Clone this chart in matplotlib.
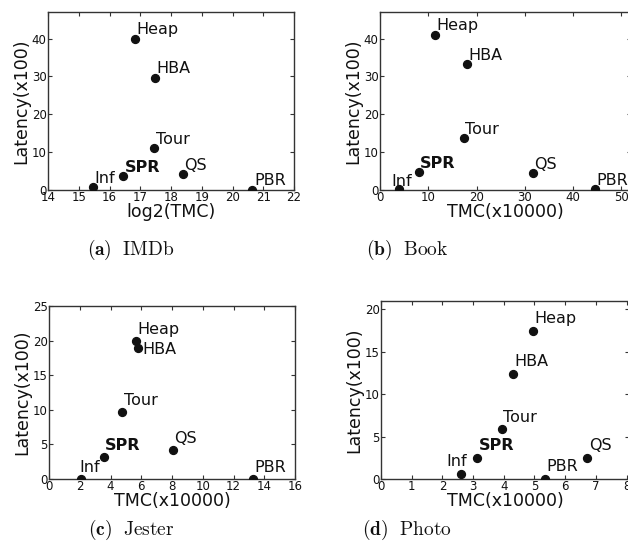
import matplotlib
matplotlib.use("Agg")
import matplotlib.pyplot as plt

W, H = 628, 551

names = ['Heap', 'HBA', 'Tour', 'SPR', 'Inf', 'QS', 'PBR']

# (a) IMDb
imdb_x = [16.83, 17.47, 17.46, 16.45, 15.47, 18.38, 20.65]
imdb_y = [40.0, 29.7, 11.0, 3.6, 0.7, 4.1, 0.1]
# (b) Book
book_x = [11.45, 18.1, 17.4, 8.0, 3.86, 31.7, 44.6]
book_y = [41.05, 33.3, 13.6, 4.7, 0.26, 4.5, 0.2]
# (c) Jester
jester_x = [5.63, 5.76, 4.78, 3.57, 2.07, 8.07, 13.28]
jester_y = [19.93, 19.0, 9.75, 3.14, 0.0, 4.2, 0.0]
# (d) Photo
photo_x = [4.96, 4.3, 3.93, 3.14, 2.62, 6.72, 5.35]
photo_y = [17.5, 12.4, 5.85, 2.5, 0.6, 2.5, 0.0]

plt.rcParams['font.family'] = 'DejaVu Sans'
plt.rcParams['mathtext.fontset'] = 'cm'

fig = plt.figure(figsize=(W / 100, H / 100), dpi=100)


def px_axes(left, top, width, height):
    return fig.add_axes([left / W, 1 - (top + height) / H, width / W, height / H])


def panel(ax, xs, ys, xlim, xticks, ylim, yticks, xlabel, dy, special=None):
    special = special or {}
    ax.scatter(xs, ys, s=32, color='#111111', zorder=3)
    for n, x, y in zip(names, xs, ys):
        off, ha, va = special.get(n, ((1, dy), 'left', 'baseline'))
        ax.annotate(n, (x, y), xytext=off, textcoords='offset points',
                    ha=ha, va=va, fontsize=11.5,
                    fontweight='bold' if n == 'SPR' else 'normal',
                    color='#111111', annotation_clip=False)
    ax.set_xlim(*xlim)
    ax.set_ylim(*ylim)
    ax.set_xticks(xticks)
    ax.set_yticks(yticks)
    ax.tick_params(direction='in', top=True, right=True, length=3,
                   labelsize=8.5, pad=1, color='#333333', labelcolor='#111111')
    for s in ax.spines.values():
        s.set_color('#333333')
        s.set_linewidth(1.0)
    ax.set_xlabel(xlabel, fontsize=12.5, labelpad=-1, color='#111111')
    ax.set_ylabel('Latency(x100)', fontsize=12.5, labelpad=1, color='#111111')


ax_a = px_axes(48, 12, 246, 178)
panel(ax_a, imdb_x, imdb_y, (14, 22), range(14, 23), (0, 47), range(0, 41, 10),
      'log2(TMC)', 3)

ax_b = px_axes(380, 12, 251, 178)
panel(ax_b, book_x, book_y, (0, 52), range(0, 51, 10), (0, 47), range(0, 41, 10),
      'TMC(x10000)', 3,
      special={'Inf': ((-5, 2.5), 'left', 'baseline')})

ax_c = px_axes(49, 306, 246, 173)
panel(ax_c, jester_x, jester_y, (0, 16), range(0, 17, 2), (0, 25), range(0, 26, 5),
      'TMC(x10000)', 5,
      special={'HBA': ((3.5, -1.5), 'left', 'center'),
               'Inf': ((-1, 5), 'left', 'baseline')})

ax_d = px_axes(381, 301, 248, 178)
panel(ax_d, photo_x, photo_y, (0, 8.08), range(0, 9), (0, 21), range(0, 21, 5),
      'TMC(x10000)', 5.5,
      special={'Inf': ((4, 5.5), 'right', 'baseline')})

# sub-captions
caps = [(131, 250, 'a', 'IMDb'), (407, 250, 'b', 'Book'),
        (131, 530, 'c', 'Jester'), (407, 530, 'd', 'Photo')]
for cx, cy, letter, title in caps:
    fig.text(cx / W, 1 - cy / H, r'$\mathbf{(' + letter + r')}\ \ \mathrm{' + title + '}$',
             ha='center', va='center', fontsize=14, color='#111111')

fig.savefig('out.png', dpi=100)
